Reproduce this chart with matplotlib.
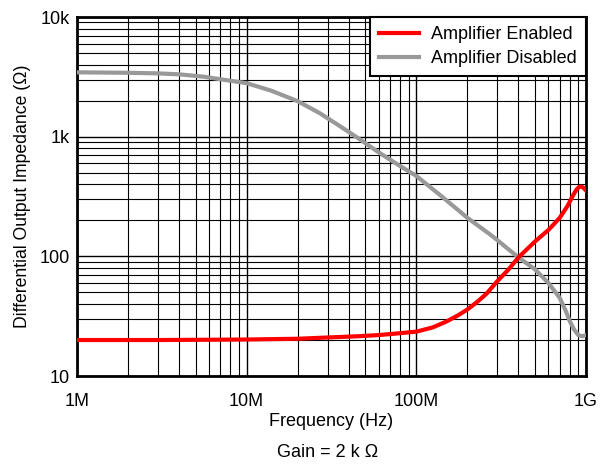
import matplotlib.pyplot as plt
from matplotlib.ticker import LogLocator, FixedLocator, FixedFormatter, NullFormatter

plt.rcParams["font.family"] = ["Liberation Sans", "DejaVu Sans"]

# frequency (Hz) and impedance (ohm)
freq_enabled = [1e6, 3e6, 10e6, 20e6, 30e6, 45e6, 60e6, 80e6, 100e6, 125e6, 150e6,
                175e6, 200e6, 230e6, 260e6, 300e6, 350e6, 400e6, 500e6, 600e6,
                700e6, 780e6, 840e6, 880e6, 910e6, 940e6, 970e6, 1e9]
z_enabled = [20, 20, 20.2, 20.5, 21, 21.5, 22, 22.8, 23.5, 25.5, 28.5,
             32, 36, 42, 49, 62, 78, 98, 133, 166,
             210, 265, 325, 362, 380, 383, 372, 355]

freq_disabled = [1e6, 2e6, 3e6, 4e6, 5.6e6, 7e6, 10e6, 14e6, 20e6, 27e6, 35e6,
                 45e6, 60e6, 80e6, 100e6, 140e6, 200e6, 280e6, 400e6, 500e6, 600e6,
                 700e6, 760e6, 800e6, 850e6, 900e6, 950e6, 1e9]
z_disabled = [3450, 3420, 3380, 3320, 3170, 3020, 2800, 2420, 1980, 1570, 1240,
              980, 740, 570, 470, 320, 210, 148, 98, 78, 60,
              45, 35, 29, 24.5, 22, 21.5, 22]

x_ticks = [1e6, 1e7, 1e8, 1e9]
x_labels = ["1M", "10M", "100M", "1G"]
y_ticks = [10, 100, 1000, 10000]
y_labels = ["10", "100", "1k", "10k"]

fig = plt.figure(figsize=(6.06, 4.66), dpi=100)
ax = fig.add_axes([0.127, 0.193, 0.84, 0.7705])

ax.plot(freq_disabled, z_disabled, color="#999999", lw=3, label="Amplifier Disabled", zorder=3)
ax.plot(freq_enabled, z_enabled, color="#ff0000", lw=3, label="Amplifier Enabled", zorder=4)

ax.set_xscale("log")
ax.set_yscale("log")
ax.set_xlim(1e6, 1e9)
ax.set_ylim(10, 10000)

ax.xaxis.set_major_locator(FixedLocator(x_ticks))
ax.xaxis.set_major_formatter(FixedFormatter(x_labels))
ax.yaxis.set_major_locator(FixedLocator(y_ticks))
ax.yaxis.set_major_formatter(FixedFormatter(y_labels))
ax.xaxis.set_minor_locator(LogLocator(base=10, subs=range(2, 10)))
ax.yaxis.set_minor_locator(LogLocator(base=10, subs=range(2, 10)))
ax.xaxis.set_minor_formatter(NullFormatter())
ax.yaxis.set_minor_formatter(NullFormatter())

ax.grid(which="major", color="black", lw=1.0)
ax.grid(which="minor", color="black", lw=0.8)
ax.tick_params(which="both", length=0, labelsize=13)
ax.tick_params(axis="x", pad=12)
ax.tick_params(axis="y", pad=5)

for s in ax.spines.values():
    s.set_linewidth(2)

ax.set_xlabel("Frequency (Hz)", fontsize=13, labelpad=2)
ax.set_ylabel("Differential Output Impedance (\u03a9)", fontsize=12.7, labelpad=6)

handles, labels = ax.get_legend_handles_labels()
leg = ax.legend(handles[::-1], labels[::-1], loc="upper right", fontsize=13,
                frameon=True, fancybox=False, borderaxespad=0, handlelength=2.2,
                handletextpad=0.7, labelspacing=0.4, borderpad=0.5)
leg.get_frame().set_edgecolor("black")
leg.get_frame().set_linewidth(1.5)
leg.get_frame().set_alpha(1)

fig.text(0.54, 0.03, "Gain = 2 k \u03a9", ha="center", va="center", fontsize=13)

fig.savefig("out.png", dpi=100)
